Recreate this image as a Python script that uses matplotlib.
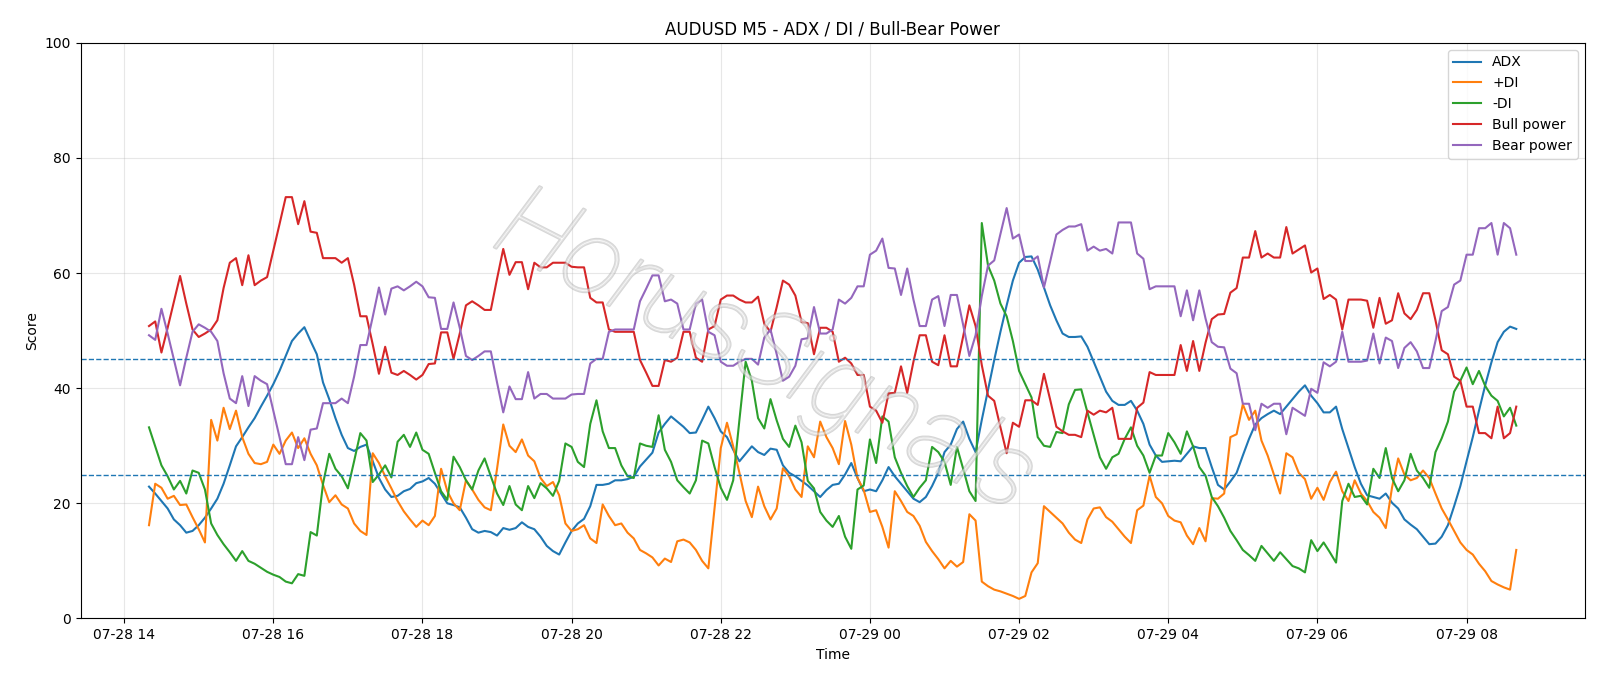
import matplotlib
matplotlib.use("Agg")
import matplotlib.pyplot as plt
import matplotlib.dates as mdates
import matplotlib.patheffects as pe
import pandas as pd

# 5-minute bars, 07-28 14:20 -> 07-29 08:40
tiempos = pd.date_range("2025-07-28 14:20", periods=221, freq="5min")

adx = [
    22.9, 21.7, 20.4, 19.1, 17.2, 16.2, 14.9, 15.2, 16.2, 17.5,
    19.1, 20.8, 23.4, 26.6, 29.9, 31.5, 33.2, 34.8, 36.8, 38.7,
    40.7, 43.0, 45.6, 48.2, 49.5, 50.6, 48.2, 45.9, 41.0, 38.1,
    34.8, 31.9, 29.6, 29.1, 29.8, 30.2, 27.3, 24.4, 22.4, 21.1,
    21.3, 22.1, 22.5, 23.5, 23.8, 24.4, 23.4, 21.7, 20.0, 19.7,
    19.3, 17.5, 15.5, 14.9, 15.2, 15.0, 14.4, 15.7, 15.4, 15.7,
    16.7, 15.9, 15.5, 14.2, 12.6, 11.7, 11.1, 13.2, 15.2, 16.5,
    17.3, 19.5, 23.2, 23.2, 23.4, 24.0, 24.0, 24.2, 24.6, 26.4,
    27.6, 28.8, 32.3, 33.8, 35.1, 34.2, 33.3, 32.2, 32.3, 34.5,
    36.8, 34.8, 32.5, 31.5, 29.3, 27.3, 28.6, 29.9, 28.9, 28.4,
    29.5, 29.3, 26.6, 25.3, 24.7, 23.9, 23.1, 22.1, 21.1, 22.3,
    23.2, 23.4, 25.0, 27.0, 24.4, 22.1, 22.4, 22.1, 24.0, 26.3,
    24.7, 23.4, 22.1, 20.8, 20.2, 21.1, 23.0, 25.3, 28.9, 30.2,
    32.9, 34.2, 31.2, 28.9, 34.5, 39.7, 44.9, 49.8, 54.4, 58.7,
    61.8, 62.8, 62.9, 60.6, 57.5, 54.4, 51.8, 49.5, 48.9, 48.9,
    49.0, 47.2, 44.6, 42.0, 39.4, 37.8, 37.1, 37.1, 37.8, 36.1,
    33.8, 30.2, 28.3, 27.2, 27.3, 27.4, 27.3, 28.6, 29.9, 29.6,
    29.6, 26.3, 23.2, 22.4, 23.8, 25.3, 28.3, 31.2, 33.7, 34.8,
    35.5, 36.1, 35.5, 36.8, 38.1, 39.4, 40.5, 38.7, 37.4, 35.8,
    35.8, 36.8, 32.9, 29.6, 26.3, 23.4, 21.4, 21.1, 20.8, 21.7,
    20.1, 19.1, 17.2, 16.3, 15.5, 14.2, 12.9, 13.0, 14.2, 16.2,
    19.5, 23.0, 27.3, 31.5, 36.1, 40.5, 44.5, 48.0, 49.8, 50.7,
    50.3,
]

plus_di = [
    16.2, 23.4, 22.7, 20.8, 21.3, 19.7, 19.8, 17.6, 15.5, 13.2,
    34.5, 30.9, 36.6, 32.9, 36.1, 31.5, 28.6, 27.0, 26.8, 27.2,
    30.2, 28.6, 30.9, 32.3, 29.6, 31.3, 28.6, 26.6, 23.2, 20.2,
    21.4, 19.8, 19.1, 16.5, 15.2, 14.5, 28.7, 27.0, 24.7, 22.6,
    20.4, 18.6, 17.2, 15.9, 17.0, 16.2, 17.8, 26.0, 22.1, 20.0,
    18.8, 24.0, 22.4, 20.6, 19.3, 18.8, 26.0, 33.7, 30.0, 28.9,
    31.1, 28.3, 27.3, 24.4, 23.0, 23.7, 21.4, 16.5, 15.2, 15.5,
    16.2, 13.9, 13.1, 19.8, 17.8, 16.2, 16.5, 14.9, 13.9, 11.9,
    11.3, 10.6, 9.2, 10.4, 9.8, 13.4, 13.7, 13.2, 11.9, 10.0,
    8.7, 19.1, 29.6, 34.0, 29.9, 25.3, 20.4, 17.6, 22.9, 19.5,
    17.2, 19.1, 26.1, 24.7, 22.4, 21.1, 29.9, 28.0, 34.2, 31.5,
    29.6, 26.8, 34.3, 30.2, 24.4, 22.3, 18.5, 18.8, 15.9, 12.3,
    22.1, 20.4, 18.5, 17.8, 16.1, 13.3, 11.7, 10.3, 8.7, 10.0,
    9.0, 9.8, 18.1, 17.0, 6.4, 5.6, 5.0, 4.7, 4.3, 3.9,
    3.4, 3.9, 8.0, 9.6, 19.5, 18.5, 17.5, 16.5, 14.9, 13.7,
    13.1, 17.2, 19.1, 19.3, 17.6, 16.8, 15.5, 14.2, 13.1, 18.8,
    19.6, 24.8, 21.1, 20.0, 17.8, 17.0, 16.7, 14.4, 12.9, 15.7,
    13.4, 20.9, 20.8, 21.7, 31.5, 32.0, 37.2, 34.5, 36.1, 30.9,
    28.3, 25.0, 21.7, 28.7, 28.0, 25.3, 24.2, 20.8, 22.7, 20.6,
    23.7, 25.5, 22.1, 20.4, 24.0, 21.7, 20.4, 18.5, 17.5, 15.7,
    22.7, 27.8, 25.0, 24.0, 24.4, 25.7, 24.4, 21.7, 19.1, 17.2,
    15.2, 13.2, 11.9, 11.1, 9.5, 8.2, 6.5, 5.9, 5.4, 5.0,
    11.9,
]

minus_di = [
    33.2, 29.9, 26.6, 24.7, 22.4, 23.9, 21.7, 25.7, 25.3, 22.4,
    16.5, 14.5, 12.9, 11.5, 10.0, 11.7, 10.0, 9.5, 8.8, 8.1,
    7.6, 7.2, 6.4, 6.1, 7.7, 7.4, 15.0, 14.4, 23.4, 28.6,
    26.0, 24.7, 22.6, 27.3, 32.2, 30.9, 23.7, 25.0, 26.6, 24.5,
    30.7, 31.9, 29.8, 32.3, 29.3, 28.6, 25.3, 22.1, 20.6, 28.1,
    26.3, 24.0, 22.4, 25.7, 27.8, 24.7, 21.7, 19.7, 23.0, 19.8,
    18.8, 23.0, 20.9, 23.5, 22.6, 21.3, 23.9, 30.4, 29.8, 27.2,
    26.3, 33.8, 37.9, 32.5, 29.6, 29.6, 26.6, 24.7, 24.4, 30.4,
    30.0, 29.8, 35.3, 29.3, 27.2, 24.0, 22.8, 21.7, 24.0, 30.9,
    30.4, 26.3, 22.7, 20.6, 24.0, 34.5, 44.6, 41.3, 34.8, 33.0,
    38.1, 34.4, 31.2, 29.8, 33.5, 30.6, 23.9, 22.6, 18.5, 17.0,
    15.9, 17.8, 14.2, 12.1, 22.4, 23.1, 31.1, 27.0, 35.1, 34.2,
    28.0, 25.3, 23.0, 21.1, 22.7, 24.0, 29.8, 28.9, 27.2, 23.2,
    29.8, 26.0, 22.1, 20.4, 68.7, 61.3, 58.7, 54.7, 52.5, 48.2,
    43.0, 40.7, 38.4, 31.5, 30.0, 29.8, 32.4, 32.2, 37.2, 39.7,
    39.8, 35.8, 31.9, 28.0, 26.0, 28.0, 28.6, 31.2, 33.2, 30.0,
    28.3, 25.3, 28.3, 28.3, 32.2, 30.6, 28.6, 32.5, 29.9, 26.3,
    24.8, 21.1, 19.5, 17.5, 15.2, 13.6, 11.9, 11.0, 10.0, 12.6,
    11.3, 10.0, 11.5, 10.3, 9.1, 8.7, 8.0, 13.6, 11.7, 13.2,
    11.5, 9.7, 20.4, 23.4, 21.1, 21.3, 19.8, 26.0, 24.4, 29.6,
    24.4, 22.1, 24.0, 28.6, 25.7, 24.4, 22.7, 28.9, 31.3, 34.2,
    39.4, 41.3, 43.6, 40.7, 43.0, 40.4, 38.7, 37.8, 35.1, 36.6,
    33.5,
]

bull_power = [
    50.8, 51.6, 46.2, 50.5, 55.0, 59.5, 54.7, 50.2, 48.9, 49.5,
    50.2, 51.8, 57.4, 61.8, 62.6, 57.9, 63.1, 57.9, 58.7, 59.3,
    63.9, 68.5, 73.2, 73.2, 68.5, 72.5, 67.2, 67.0, 62.6, 62.6,
    62.6, 61.8, 62.6, 58.0, 52.5, 52.5, 47.6, 42.5, 47.2, 42.7,
    42.3, 43.0, 42.3, 41.5, 42.3, 44.2, 44.3, 49.7, 49.7, 45.1,
    49.5, 54.4, 55.1, 54.4, 53.6, 53.6, 59.0, 64.2, 59.7, 61.9,
    61.9, 57.2, 61.8, 61.0, 61.0, 61.8, 61.8, 61.8, 61.1, 61.0,
    61.0, 55.7, 54.9, 54.9, 50.2, 49.8, 49.8, 49.8, 49.8, 44.9,
    42.7, 40.4, 40.4, 44.9, 44.6, 45.3, 49.8, 49.8, 45.3, 44.6,
    50.2, 50.8, 55.4, 56.1, 56.1, 55.4, 54.9, 54.9, 55.9, 51.2,
    49.8, 54.1, 58.7, 58.0, 56.1, 51.5, 51.3, 45.9, 50.5, 50.5,
    49.8, 44.6, 45.3, 44.3, 42.3, 42.3, 36.8, 36.1, 34.0, 39.1,
    39.2, 43.8, 39.2, 44.6, 49.2, 49.2, 44.6, 44.0, 49.2, 43.8,
    43.8, 49.0, 54.4, 50.8, 44.0, 38.7, 37.8, 33.2, 28.7, 34.0,
    33.3, 37.9, 37.9, 37.1, 42.5, 38.0, 33.3, 32.5, 31.9, 31.9,
    31.5, 36.1, 35.4, 36.1, 35.8, 36.6, 31.2, 31.2, 31.2, 36.6,
    37.5, 42.8, 42.3, 42.3, 42.3, 42.3, 47.5, 43.0, 48.2, 43.0,
    47.9, 52.0, 52.8, 52.9, 56.6, 57.4, 62.7, 62.7, 67.3, 62.7,
    63.4, 62.7, 62.7, 68.0, 63.4, 64.1, 64.8, 60.1, 60.8, 55.5,
    56.2, 55.4, 50.2, 55.4, 55.4, 55.4, 55.2, 50.5, 55.7, 51.2,
    51.8, 56.5, 53.0, 52.0, 53.6, 56.5, 56.5, 51.8, 46.6, 45.9,
    42.0, 41.3, 36.8, 36.8, 32.2, 32.2, 31.3, 36.8, 31.3, 32.2,
    36.8,
]

bear_power = [
    49.2, 48.4, 53.8, 49.5, 45.0, 40.5, 45.3, 49.8, 51.1, 50.5,
    49.8, 48.2, 42.6, 38.2, 37.4, 42.1, 36.9, 42.1, 41.3, 40.7,
    36.1, 31.5, 26.8, 26.8, 31.5, 27.5, 32.8, 33.0, 37.4, 37.4,
    37.4, 38.2, 37.4, 42.0, 47.5, 47.5, 52.4, 57.5, 52.8, 57.3,
    57.7, 57.0, 57.7, 58.5, 57.7, 55.8, 55.7, 50.3, 50.3, 54.9,
    50.5, 45.6, 44.9, 45.6, 46.4, 46.4, 41.0, 35.8, 40.3, 38.1,
    38.1, 42.8, 38.2, 39.0, 39.0, 38.2, 38.2, 38.2, 38.9, 39.0,
    39.0, 44.3, 45.1, 45.1, 49.8, 50.2, 50.2, 50.2, 50.2, 55.1,
    57.3, 59.6, 59.6, 55.1, 55.4, 54.7, 50.2, 50.2, 54.7, 55.4,
    49.8, 49.2, 44.6, 43.9, 43.9, 44.6, 45.1, 45.1, 44.1, 48.8,
    50.2, 45.9, 41.3, 42.0, 43.9, 48.5, 48.7, 54.1, 49.5, 49.5,
    50.2, 55.4, 54.7, 55.7, 57.7, 57.7, 63.2, 63.9, 66.0, 60.9,
    60.8, 56.2, 60.8, 55.4, 50.8, 50.8, 55.4, 56.0, 50.8, 56.2,
    56.2, 51.0, 45.6, 49.2, 56.0, 61.3, 62.2, 66.8, 71.3, 66.0,
    66.7, 62.1, 62.1, 62.9, 57.5, 62.0, 66.7, 67.5, 68.1, 68.1,
    68.5, 63.9, 64.6, 63.9, 64.2, 63.4, 68.8, 68.8, 68.8, 63.4,
    62.5, 57.2, 57.7, 57.7, 57.7, 57.7, 52.5, 57.0, 51.8, 57.0,
    52.1, 48.0, 47.2, 47.1, 43.4, 42.6, 37.3, 37.3, 32.7, 37.3,
    36.6, 37.3, 37.3, 32.0, 36.6, 35.9, 35.2, 39.9, 39.2, 44.5,
    43.8, 44.6, 49.8, 44.6, 44.6, 44.6, 44.8, 49.5, 44.3, 48.8,
    48.2, 43.5, 47.0, 48.0, 46.4, 43.5, 43.5, 48.2, 53.4, 54.1,
    58.0, 58.7, 63.2, 63.2, 67.8, 67.8, 68.7, 63.2, 68.7, 67.8,
    63.2,
]

niveles = [45, 25]

fig, ax = plt.subplots(figsize=(16, 6.86), dpi=100)

ax.plot(tiempos, adx, label="ADX")
ax.plot(tiempos, plus_di, label="+DI")
ax.plot(tiempos, minus_di, label="-DI")
ax.plot(tiempos, bull_power, label="Bull power")
ax.plot(tiempos, bear_power, label="Bear power")

for nivel in niveles:
    ax.axhline(nivel, color="tab:blue", linestyle="--", linewidth=1)

ax.set_ylim(0, 100)
ax.xaxis.set_major_locator(mdates.HourLocator(byhour=range(0, 24, 2)))
ax.xaxis.set_major_formatter(mdates.DateFormatter("%m-%d %H"))
ax.grid(True, alpha=0.3)
ax.set_title("AUDUSD M5 - ADX / DI / Bull-Bear Power")
ax.set_xlabel("Time")
ax.set_ylabel("Score")
ax.legend(loc="upper right")

# marca de agua
ax.text(
    0.455, 0.46, "HorusSignals",
    transform=ax.transAxes, ha="center", va="center",
    fontsize=76, fontstyle="italic", fontweight="light", family="Roboto",
    rotation=-27, color=(1, 1, 1, 0.3), zorder=5,
    path_effects=[pe.withStroke(linewidth=1.6, foreground=(0.6, 0.6, 0.6, 0.4))],
)

plt.subplots_adjust(left=0.0504, right=0.9904, top=0.9375, bottom=0.0985)
plt.savefig("out.png", dpi=100)
